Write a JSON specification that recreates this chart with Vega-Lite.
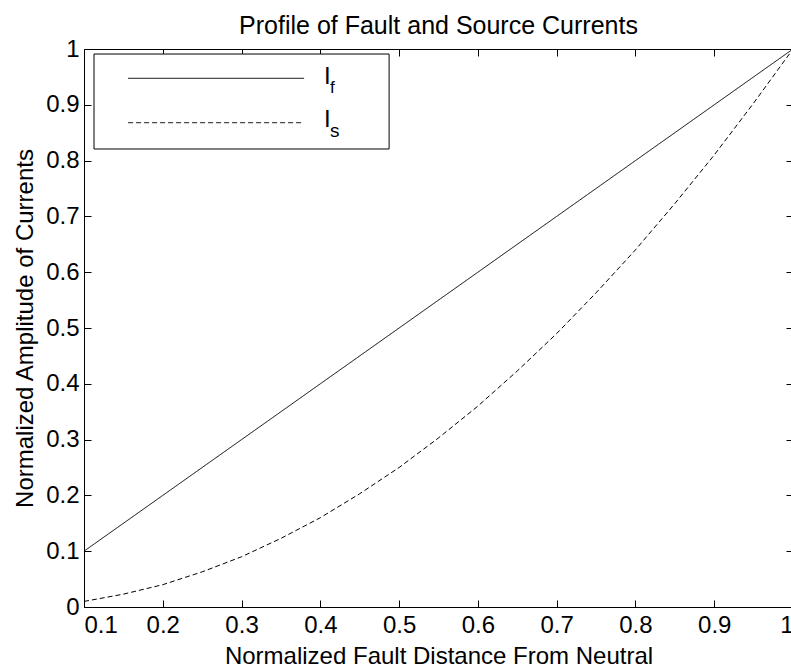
{
  "$schema": "https://vega.github.io/schema/vega-lite/v6.json",
  "width": 709,
  "height": 558,
  "autosize": {"type": "none"},
  "padding": {"left": 84, "top": 49, "right": 0, "bottom": 61},
  "background": "white",
  "config": {
    "font": "Liberation Sans",
    "view": {"stroke": "black", "strokeWidth": 1},
    "axis": {
      "domain": false,
      "grid": false,
      "tickColor": "black",
      "tickWidth": 1,
      "tickSize": -7,
      "labelColor": "black",
      "titleColor": "black",
      "labelFontSize": 24,
      "titleFontSize": 24,
      "titleFontWeight": "normal",
      "labelFont": "Liberation Sans",
      "titleFont": "Liberation Sans"
    }
  },
  "title": {
    "text": "Profile of Fault and Source Currents",
    "fontSize": 25,
    "fontWeight": "normal",
    "font": "Liberation Sans",
    "color": "black",
    "offset": -2
  },
  "datasets": {
    "curves": [
      {"series": "If", "distance": 0.1, "amplitude": 0.1},
      {"series": "If", "distance": 0.2, "amplitude": 0.2},
      {"series": "If", "distance": 0.3, "amplitude": 0.3},
      {"series": "If", "distance": 0.4, "amplitude": 0.4},
      {"series": "If", "distance": 0.5, "amplitude": 0.5},
      {"series": "If", "distance": 0.6, "amplitude": 0.6},
      {"series": "If", "distance": 0.7, "amplitude": 0.7},
      {"series": "If", "distance": 0.8, "amplitude": 0.8},
      {"series": "If", "distance": 0.9, "amplitude": 0.9},
      {"series": "If", "distance": 1.0, "amplitude": 1.0},
      {"series": "Is", "distance": 0.1, "amplitude": 0.01},
      {"series": "Is", "distance": 0.15, "amplitude": 0.023},
      {"series": "Is", "distance": 0.2, "amplitude": 0.04},
      {"series": "Is", "distance": 0.25, "amplitude": 0.063},
      {"series": "Is", "distance": 0.3, "amplitude": 0.09},
      {"series": "Is", "distance": 0.35, "amplitude": 0.123},
      {"series": "Is", "distance": 0.4, "amplitude": 0.16},
      {"series": "Is", "distance": 0.45, "amplitude": 0.203},
      {"series": "Is", "distance": 0.5, "amplitude": 0.25},
      {"series": "Is", "distance": 0.55, "amplitude": 0.303},
      {"series": "Is", "distance": 0.6, "amplitude": 0.36},
      {"series": "Is", "distance": 0.65, "amplitude": 0.423},
      {"series": "Is", "distance": 0.7, "amplitude": 0.49},
      {"series": "Is", "distance": 0.75, "amplitude": 0.563},
      {"series": "Is", "distance": 0.8, "amplitude": 0.64},
      {"series": "Is", "distance": 0.85, "amplitude": 0.723},
      {"series": "Is", "distance": 0.9, "amplitude": 0.81},
      {"series": "Is", "distance": 0.95, "amplitude": 0.903},
      {"series": "Is", "distance": 1.0, "amplitude": 1.0}
    ],
    "legend": [
      {"series": "If", "label": "I", "sub": "f"},
      {"series": "Is", "label": "I", "sub": "s"}
    ]
  },
  "layer": [
    {
      "data": {"name": "curves"},
      "mark": {"type": "line", "color": "black", "strokeWidth": 1},
      "encoding": {
        "x": {
          "field": "distance",
          "type": "quantitative",
          "scale": {"domain": [0.1, 1], "nice": false, "zero": false},
          "axis": {
            "orient": "bottom",
            "values": [0.1, 0.2, 0.3, 0.4, 0.5, 0.6, 0.7, 0.8, 0.9, 1],
            "format": ".1~f",
            "labelPadding": 13,
            "title": "Normalized Fault Distance From Neutral",
            "titlePadding": 7
          }
        },
        "y": {
          "field": "amplitude",
          "type": "quantitative",
          "scale": {"domain": [0, 1], "nice": false},
          "axis": {
            "orient": "left",
            "values": [0, 0.1, 0.2, 0.3, 0.4, 0.5, 0.6, 0.7, 0.8, 0.9, 1],
            "format": ".1~f",
            "labelPadding": 12,
            "title": "Normalized Amplitude of Currents",
            "titlePadding": 8
          }
        },
        "strokeDash": {
          "field": "series",
          "type": "nominal",
          "scale": {"domain": ["If", "Is"], "range": [[1, 0], [5, 3]]},
          "legend": null
        }
      }
    },
    {
      "data": {"name": "legend"},
      "transform": [{"filter": "datum.series === 'If'"}],
      "mark": {"type": "rect", "fill": "white", "stroke": "black", "strokeWidth": 1},
      "encoding": {
        "x": {
          "datum": 0.1127,
          "type": "quantitative",
          "axis": {
            "orient": "top",
            "values": [0.1, 0.2, 0.3, 0.4, 0.5, 0.6, 0.7, 0.8, 0.9, 1],
            "labels": false,
            "title": null
          }
        },
        "x2": {"datum": 0.4873},
        "y": {
          "datum": 0.991,
          "type": "quantitative",
          "axis": {
            "orient": "right",
            "values": [0, 0.1, 0.2, 0.3, 0.4, 0.5, 0.6, 0.7, 0.8, 0.9, 1],
            "labels": false,
            "title": null
          }
        },
        "y2": {"datum": 0.8208}
      }
    },
    {
      "data": {"name": "legend"},
      "transform": [{"filter": "datum.series === 'If'"}],
      "mark": {"type": "rule", "color": "black", "strokeWidth": 0.9},
      "encoding": {
        "x": {"datum": 0.1559, "type": "quantitative", "axis": null},
        "x2": {"datum": 0.3794},
        "y": {"datum": 0.9475, "type": "quantitative", "axis": null},
        "strokeDash": {"field": "series", "type": "nominal", "legend": null}
      }
    },
    {
      "data": {"name": "legend"},
      "transform": [{"filter": "datum.series === 'Is'"}],
      "mark": {"type": "rule", "color": "black", "strokeWidth": 0.9},
      "encoding": {
        "x": {"datum": 0.1559, "type": "quantitative", "axis": null},
        "x2": {"datum": 0.3794},
        "y": {"datum": 0.8679, "type": "quantitative", "axis": null},
        "strokeDash": {"field": "series", "type": "nominal", "legend": null}
      }
    },
    {
      "data": {"name": "legend"},
      "transform": [{"filter": "datum.series === 'If'"}],
      "mark": {"type": "text", "align": "left", "baseline": "alphabetic", "fontSize": 24, "font": "Liberation Sans", "color": "black"},
      "encoding": {
        "x": {"datum": 0.4048, "type": "quantitative", "axis": null},
        "y": {"datum": 0.9373, "type": "quantitative", "axis": null},
        "text": {"field": "label"}
      }
    },
    {
      "data": {"name": "legend"},
      "transform": [{"filter": "datum.series === 'If'"}],
      "mark": {"type": "text", "align": "left", "baseline": "alphabetic", "fontSize": 17, "font": "Liberation Sans", "color": "black", "dx": 6, "dy": 9},
      "encoding": {
        "x": {"datum": 0.4048, "type": "quantitative", "axis": null},
        "y": {"datum": 0.9373, "type": "quantitative", "axis": null},
        "text": {"field": "sub"}
      }
    },
    {
      "data": {"name": "legend"},
      "transform": [{"filter": "datum.series === 'Is'"}],
      "mark": {"type": "text", "align": "left", "baseline": "alphabetic", "fontSize": 24, "font": "Liberation Sans", "color": "black"},
      "encoding": {
        "x": {"datum": 0.4048, "type": "quantitative", "axis": null},
        "y": {"datum": 0.8602, "type": "quantitative", "axis": null},
        "text": {"field": "label"}
      }
    },
    {
      "data": {"name": "legend"},
      "transform": [{"filter": "datum.series === 'Is'"}],
      "mark": {"type": "text", "align": "left", "baseline": "alphabetic", "fontSize": 19, "font": "Liberation Sans", "color": "black", "dx": 6, "dy": 10},
      "encoding": {
        "x": {"datum": 0.4048, "type": "quantitative", "axis": null},
        "y": {"datum": 0.8602, "type": "quantitative", "axis": null},
        "text": {"field": "sub"}
      }
    }
  ],
  "resolve": {"axis": {"x": "independent", "y": "independent"}}
}
